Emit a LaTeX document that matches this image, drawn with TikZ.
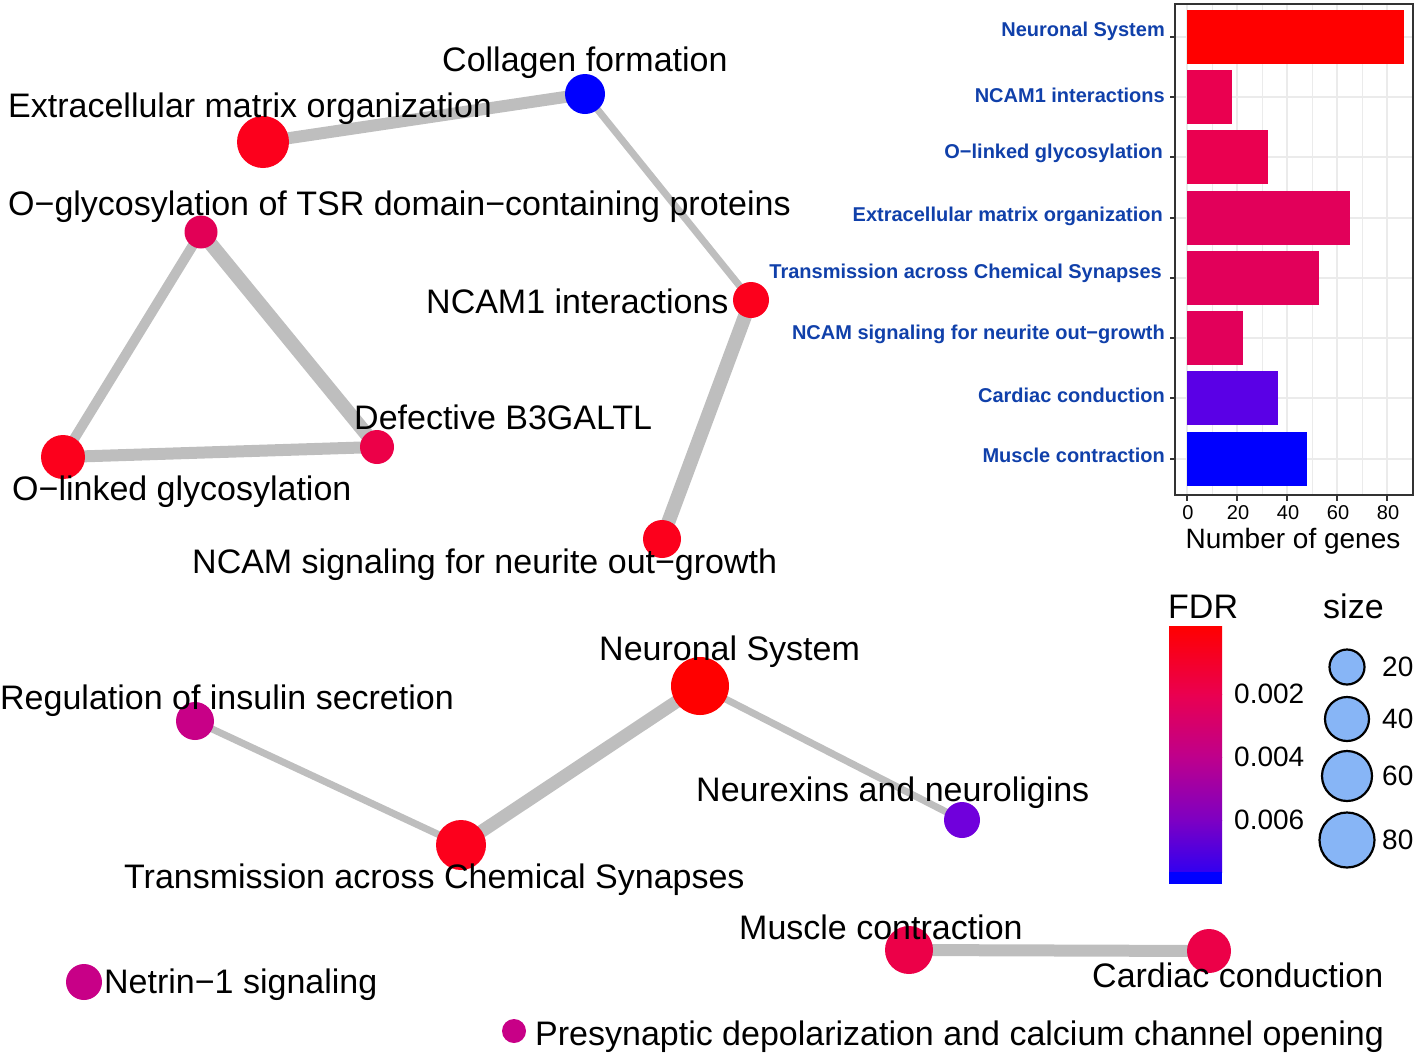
\documentclass[tikz,border=0pt]{standalone}
\usepackage{fontspec}
\setmainfont{Liberation Sans}
\pgfdeclarelayer{bg}
\pgfsetlayers{bg,main}
\definecolor{cR}{RGB}{255,0,0}
\definecolor{cRa}{RGB}{252,0,28}
\definecolor{cC}{RGB}{236,0,72}
\definecolor{cCb}{RGB}{226,0,86}
\definecolor{cM}{RGB}{200,0,135}
\definecolor{cP}{RGB}{112,0,220}
\definecolor{cB}{RGB}{0,0,255}
\definecolor{edgec}{RGB}{190,190,190}
\definecolor{lblue}{RGB}{16,64,170}
\definecolor{gridc}{RGB}{235,235,235}
\definecolor{bNC}{RGB}{234,0,80}
\definecolor{bMid}{RGB}{226,0,90}
\definecolor{bCar}{RGB}{90,0,230}
\definecolor{sizeblue}{RGB}{135,181,246}
\begin{document}
\begin{tikzpicture}[x=1pt,y=-1pt,
  vtx/.style={circle,inner sep=0pt,minimum size=#1},
  lab/.style={anchor=base west,inner sep=0pt,font=\fontsize{34}{40}\selectfont},
  edg/.style={draw=edgec,line width=#1},
  barlab/.style={anchor=east,inner sep=0pt,text=lblue,font=\fontsize{20}{22}\selectfont\bfseries},
  ticklab/.style={anchor=center,inner sep=0pt,font=\fontsize{20}{22}\selectfont},
  leglab/.style={anchor=west,inner sep=0pt,font=\fontsize{28}{32}\selectfont},
  sizec/.style={circle,draw=black,line width=2.2pt,fill=sizeblue,inner sep=0pt,minimum size=#1}
]
\useasboundingbox (0,0) rectangle (1416,1053);

% ---------------- network nodes ----------------
\node[vtx=52,fill=cRa] (ECM) at (263,142) {};
\node[vtx=40,fill=cB]  (COL) at (585,94) {};
\node[vtx=33,fill=cCb] (TSR) at (201,232) {};
\node[vtx=36,fill=cRa] (NC1) at (751,300) {};
\node[vtx=34,fill=cC]  (DEF) at (377,447) {};
\node[vtx=44,fill=cRa] (OLG) at (63,457) {};
\node[vtx=38,fill=cRa] (NCS) at (662,539) {};
\node[vtx=58,fill=cR]  (NEU) at (700,686) {};
\node[vtx=38,fill=cM]  (REG) at (195,721) {};
\node[vtx=50,fill=cRa] (TRN) at (461,845) {};
\node[vtx=36,fill=cP]  (NRX) at (962,820) {};
\node[vtx=48,fill=cC]  (MUS) at (909,950) {};
\node[vtx=44,fill=cC]  (CAR) at (1209,951) {};
\node[vtx=36,fill=cM]  (NET) at (84,982) {};
\node[vtx=24,fill=cM]  (PRE) at (514,1031) {};

% ---------------- edges ----------------
\begin{pgfonlayer}{bg}
\draw[edg=12] (ECM.center) -- (COL.center);
\draw[edg=7]  (COL.center) -- (NC1.center);
\draw[edg=14] (NC1.center) -- (NCS.center);
\draw[edg=10] (TSR.center) -- (OLG.center);
\draw[edg=14] (TSR.center) -- (DEF.center);
\draw[edg=12] (OLG.center) -- (DEF.center);
\draw[edg=13] (NEU.center) -- (TRN.center);
\draw[edg=7]  (REG.center) -- (TRN.center);
\draw[edg=7]  (NEU.center) -- (NRX.center);
\draw[edg=12] (MUS.center) -- (CAR.center);
\end{pgfonlayer}

% ---------------- labels ----------------
\node[lab] (lCOL) at (442,71) {Collagen formation};
\node[lab] (lECM) at (8,117) {Extracellular matrix organization};
\node[lab] (lTSR) at (8,215) {O−glycosylation of TSR domain−containing proteins};
\node[lab] (lNC1) at (426,313) {NCAM1 interactions};
\node[lab] (lDEF) at (354,429) {Defective B3GALTL};
\node[lab] (lOLG) at (12,500) {O−linked glycosylation};
\node[lab] (lNCS) at (192,573) {NCAM signaling for neurite out−growth};
\node[lab] (lNEU) at (599,660) {Neuronal System};
\node[lab] (lREG) at (0,709) {Regulation of insulin secretion};
\node[lab] (lNRX) at (696,801) {Neurexins and neuroligins};
\node[lab] (lTRN) at (124,888) {Transmission across Chemical Synapses};
\node[lab] (lMUS) at (739,939) {Muscle contraction};
\node[lab] (lCAR) at (1092,987) {Cardiac conduction};
\node[lab] (lNET) at (104,993) {Netrin−1 signaling};
\node[lab] (lPRE) at (535,1045) {Presynaptic depolarization and calcium channel opening};

% ---------------- bar chart ----------------
\fill[white] (1175,4) rectangle (1413,495);
\foreach \x in {1212,1262,1312,1362,1412} \draw[gridc,line width=0.8pt] (\x,4) -- (\x,495);
\foreach \x in {1187,1237,1287,1337,1387} \draw[gridc,line width=1.6pt] (\x,4) -- (\x,495);
\foreach \y in {37,97,157,218,278,338,398,459} \draw[gridc,line width=1.6pt] (1175,\y) -- (1413,\y);
% bars (value * 2.5 px)
\fill[cR]   (1187,10)  rectangle (1404,64);
\fill[bNC]  (1187,70)  rectangle (1232,124);
\fill[bNC]  (1187,130) rectangle (1268,184);
\fill[bMid] (1187,191) rectangle (1350,245);
\fill[bMid] (1187,251) rectangle (1319,305);
\fill[bMid] (1187,311) rectangle (1243,365);
\fill[bCar] (1187,371) rectangle (1278,425);
\fill[cB]   (1187,432) rectangle (1307,486);
\draw[black!80,line width=2.5pt] (1175,4) rectangle (1413,495);
\foreach \y in {37,97,157,218,278,338,398,459} \draw[black!80,line width=1.2pt] (1170,\y) -- (1175,\y);
\foreach \x in {1187,1237,1287,1337,1387} \draw[black!80,line width=1.2pt] (\x,495) -- (\x,501);

\node[barlab] (b1) at (1165,31)  {Neuronal System};
\node[barlab] (b2) at (1165,95)  {NCAM1 interactions};
\node[barlab] (b3) at (1163,153) {O−linked glycosylation};
\node[barlab] (b4) at (1163,216) {Extracellular matrix organization};
\node[barlab] (b5) at (1162,273) {Transmission across Chemical Synapses};
\node[barlab] (b6) at (1165,334) {NCAM signaling for neurite out−growth};
\node[barlab] (b7) at (1165,395) {Cardiac conduction};
\node[barlab] (b8) at (1165,455) {Muscle contraction};

\node[ticklab] (t0) at (1188,513) {0};
\node[ticklab] (t1) at (1238,513) {20};
\node[ticklab] (t2) at (1288,513) {40};
\node[ticklab] (t3) at (1338,513) {60};
\node[ticklab] (t4) at (1388,513) {80};
\node[anchor=base,inner sep=0pt,font=\fontsize{28}{32}\selectfont] (xt) at (1293,548) {Number of genes};

% ---------------- FDR legend ----------------
\node[anchor=base west,inner sep=0pt,font=\fontsize{34}{40}\selectfont] (fdr) at (1168,618) {FDR};
\shade[top color=cR, bottom color={rgb,255:red,234;green,0;blue,80}] (1169,626) rectangle (1222,694.5);
\shade[top color={rgb,255:red,234;green,0;blue,80}, bottom color={rgb,255:red,190;green,0;blue,140}] (1169,694) rectangle (1222,757.5);
\shade[top color={rgb,255:red,190;green,0;blue,140}, bottom color={rgb,255:red,125;green,0;blue,195}] (1169,757) rectangle (1222,820.5);
\shade[top color={rgb,255:red,125;green,0;blue,195}, bottom color={rgb,255:red,50;green,0;blue,240}] (1169,820) rectangle (1222,872.5);
\fill[cB] (1169,872) rectangle (1222,884);
\node[leglab] (f1) at (1234,694) {0.002};
\node[leglab] (f2) at (1234,757) {0.004};
\node[leglab] (f3) at (1234,820) {0.006};

% ---------------- size legend ----------------
\node[anchor=base west,inner sep=0pt,font=\fontsize{34}{40}\selectfont] (sz) at (1323,618) {size};
\node[sizec=35] (s1) at (1347,667) {};
\node[sizec=44] (s2) at (1347,719) {};
\node[sizec=50] (s3) at (1347,776) {};
\node[sizec=55] (s4) at (1347,840) {};
\node[leglab] (s1l) at (1382,667) {20};
\node[leglab] (s2l) at (1382,719) {40};
\node[leglab] (s3l) at (1382,776) {60};
\node[leglab] (s4l) at (1382,840) {80};
\end{tikzpicture}
\end{document}
